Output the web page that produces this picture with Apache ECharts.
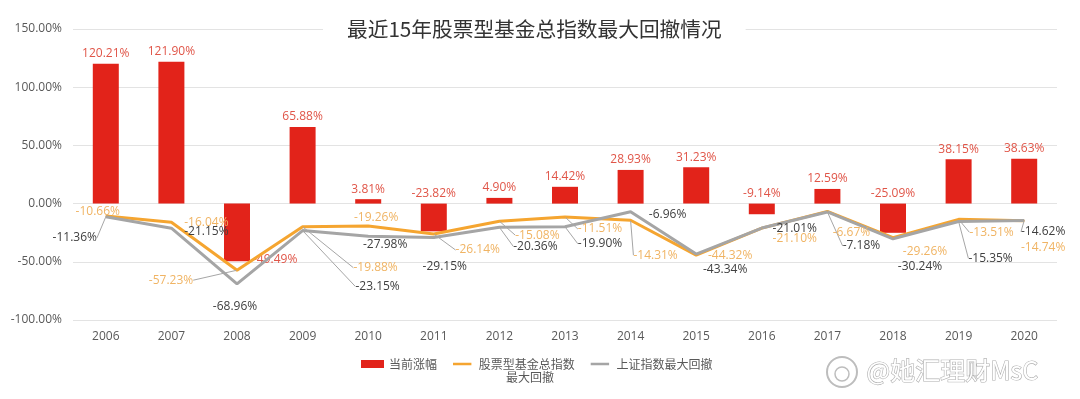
<!DOCTYPE html>
<html>
<head>
<meta charset="utf-8">
<script src="https://cdn.jsdelivr.net/npm/echarts@6/dist/echarts.min.js"></script>
<style>
html,body{margin:0;padding:0;background:#fff;}
#chart{width:1080px;height:399px;}
</style>
</head>
<body>
<div id="chart"></div>
<script>
// ---- data ----
const years = ['2006','2007','2008','2009','2010','2011','2012','2013','2014','2015','2016','2017','2018','2019','2020'];
const gainPct = [120.21, 121.90, -49.49, 65.88, 3.81, -23.82, 4.90, 14.42, 28.93, 31.23, -9.14, 12.59, -25.09, 38.15, 38.63];
const fundDrawdown = [-10.66, -16.04, -57.23, -19.88, -19.26, -26.14, -15.08, -11.51, -14.31, -44.32, -21.10, -6.67, -29.26, -13.51, -14.74];
const shDrawdown = [-11.36, -21.15, -68.96, -23.15, -27.98, -29.15, -20.36, -19.90, -6.96, -43.34, -21.01, -7.18, -30.24, -15.35, -14.62];

// ---- label placement (style only) ----
const fundLabelShift = [[-8,-4],[35,0],[-66,10],[73,41],[8,-8],[44,16],[38,14],[35,12],[25,35],[34,0],[33,10],[24,21],[32,14],[33,13],[19,27]];
const shLabelShift = [[-31,21],[35,3],[-2,23],[75,56],[17,8],[11,29],[36,19],[35,17],[37,3],[29,16],[33,1],[34,34],[27,28],[32,37],[19,11]];
const fundLeader = [0,0,1,1,0,1,1,1,1,0,0,0,0,1,0];
const shLeader = [1,0,0,1,0,0,1,1,0,0,0,1,0,1,1];

const fmt = v => v.toFixed(2) + '%';
const leaderStyle = {color:'#A6A6A6', width:1};
const lineIcon = 'path://M0,0L23,0M0,3.4L23,3.4L23,6.6L0,6.6ZM0,10L23,10';

const barData = gainPct.map((v,i) => {
  const item = {value: v};
  if (i === 2) {
    item.label = {position:['100%','100%'], align:'left', verticalAlign:'middle', offset:[3,-2]};
  }
  return item;
});
const fundData = fundDrawdown.map((v,i) => ({value:v, labelLine:{show: !!fundLeader[i], lineStyle:leaderStyle}}));
const shData = shDrawdown.map((v,i) => ({value:v, labelLine:{show: !!shLeader[i], lineStyle:leaderStyle}}));

const chart = echarts.init(document.getElementById('chart'), null, {renderer:'canvas'});
const font = '"Open Sans","Noto Sans CJK SC",sans-serif';
chart.setOption({
  animation:false,
  backgroundColor:'#fff',
  textStyle:{fontFamily:font},
  title:{
    text:'最近15年股票型基金总指数最大回撤情况',
    left:323, top:15,
    padding:[4,24],
    backgroundColor:'#fff',
    textStyle:{fontSize:20.7, fontWeight:'normal', color:'#333', fontFamily:'"Noto Sans CJK SC",sans-serif'}
  },
  grid:{left:73, right:23, top:29, bottom:79, containLabel:false},
  legend:{
    left:356, top:353,
    itemWidth:23, itemHeight:8, itemGap:16,
    textStyle:{fontSize:12, color:'#595959', fontFamily:'"Noto Sans CJK SC",sans-serif'},
    data:[
      {name:'当前涨幅', icon:'rect'},
      {name:'股票型基金总指数', icon:lineIcon},
      {name:'上证指数最大回撤', icon:lineIcon}
    ]
  },
  xAxis:{
    type:'category', data:years,
    axisLine:{show:false}, axisTick:{show:false},
    axisLabel:{color:'#595959', fontSize:12, margin:11}
  },
  yAxis:{
    type:'value', min:-100, max:150, interval:50,
    axisLabel:{formatter: v => v.toFixed(2) + '%', color:'#595959', fontSize:12, margin:11},
    splitLine:{lineStyle:{color:'#E3E3E3', width:1}},
    axisLine:{show:false}, axisTick:{show:false}
  },
  series:[
    {
      name:'当前涨幅', type:'bar', data:barData, barWidth:26,
      itemStyle:{color:'#E2231A'},
      label:{show:true, position:'top', distance:4, color:'#E05548', fontSize:12, formatter: p => fmt(p.value)}
    },
    {
      name:'股票型基金总指数', type:'line', data:fundData,
      symbol:'circle', symbolSize:1, showSymbol:true,
      lineStyle:{color:'#F5A530', width:3},
      itemStyle:{color:'#F5A530'},
      label:{show:true, position:'inside', color:'#F0B464', fontSize:12, formatter: p => fmt(p.value)},
      labelLayout: p => ({dx: fundLabelShift[p.dataIndex][0], dy: fundLabelShift[p.dataIndex][1]})
    },
    {
      name:'上证指数最大回撤', type:'line', data:shData,
      symbol:'circle', symbolSize:1, showSymbol:true,
      lineStyle:{color:'#A5A5A5', width:3},
      itemStyle:{color:'#A5A5A5'},
      label:{show:true, position:'inside', color:'#404040', fontSize:12, formatter: p => fmt(p.value)},
      labelLayout: p => ({dx: shLabelShift[p.dataIndex][0], dy: shLabelShift[p.dataIndex][1]})
    }
  ],
  graphic:[
    {type:'text', left:506, top:371, style:{text:'最大回撤', fill:'#595959', fontSize:12, fontFamily:'"Noto Sans CJK SC",sans-serif'}},
    {type:'circle', shape:{cx:842, cy:372, r:15}, style:{fill:'none', stroke:'#BDBDBD', lineWidth:2}},
    {type:'circle', shape:{cx:842, cy:374, r:7}, style:{fill:'none', stroke:'#BDBDBD', lineWidth:1.5}},
    {type:'text', left:866, top:357, style:{text:'@她汇理财MsC', fill:'#ffffff', stroke:'#AFAFAF', lineWidth:1.2, fontSize:25, fontFamily:'"Noto Sans CJK SC",sans-serif', shadowBlur:3, shadowColor:'rgba(0,0,0,0.25)'}}
  ]
});
</script>
</body>
</html>
